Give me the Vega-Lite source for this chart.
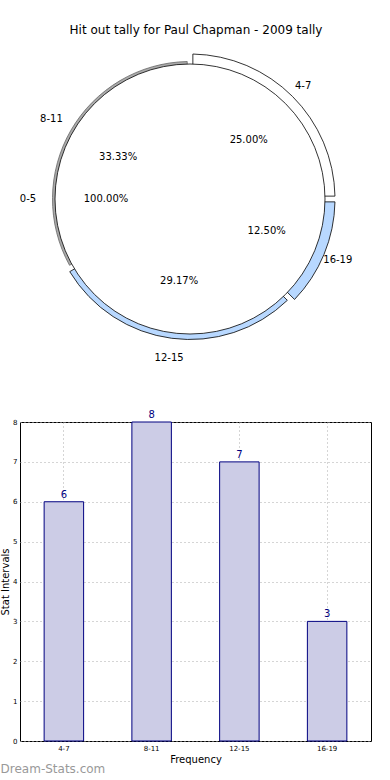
{
  "$schema": "https://vega.github.io/schema/vega-lite/v6.json",
  "padding": {"left": 0, "top": 24, "right": 0, "bottom": 0},
  "background": "white",
  "config": {
    "font": "DejaVu Sans",
    "view": {"stroke": "#000000", "strokeWidth": 1},
    "title": {"font": "DejaVu Sans", "fontWeight": "normal"}
  },
  "datasets": {
    "pie": [
      {"bin": "0-5", "pct": 100, "label": "100.00%", "ord": 0},
      {"bin": "4-7", "pct": 25, "label": "25.00%", "ord": 1},
      {"bin": "16-19", "pct": 12.5, "label": "12.50%", "ord": 2},
      {"bin": "12-15", "pct": 29.17, "label": "29.17%", "ord": 3},
      {"bin": "8-11", "pct": 33.33, "label": "33.33%", "ord": 4}
    ],
    "bars": [
      {"bin": "4-7", "count": 6},
      {"bin": "8-11", "count": 8},
      {"bin": "12-15", "count": 7},
      {"bin": "16-19", "count": 3}
    ]
  },
  "bounds": "flush",
  "spacing": 71,
  "vconcat": [
    {
      "title": {"text": "Hit out tally for Paul Chapman - 2009 tally", "fontSize": 12, "color": "#000000", "offset": 10, "dx": 6},
      "width": 340,
      "height": 304,
      "view": {"stroke": null},
      "data": {"name": "pie"},
      "layer": [
        {
          "transform": [{"filter": "datum.bin != '0-5'"}],
          "mark": {"type": "arc", "outerRadius": 145, "innerRadius": 125, "stroke": "#000000", "strokeWidth": 0.8, "padAngle": 0.03},
          "encoding": {
            "theta": {"field": "pct", "type": "quantitative", "stack": true, "scale": {"domain": [0, 100]}},
            "order": {"field": "ord", "type": "quantitative"},
            "fill": {"field": "bin", "type": "nominal", "legend": null,
              "scale": {"domain": ["4-7", "16-19", "12-15", "8-11"], "range": ["#ffffff", "#b8d8ff", "#b8d8ff", "#ffffff"]}},
            "fillOpacity": {"condition": {"test": "datum.bin == '4-7' || datum.bin == '16-19'", "value": 1}, "value": 0},
            "strokeOpacity": {"condition": {"test": "datum.bin == '4-7' || datum.bin == '16-19'", "value": 1}, "value": 0}
          }
        },
        {
          "transform": [{"filter": "datum.bin != '0-5'"}],
          "mark": {"type": "arc", "outerRadius": 140.5, "innerRadius": 125, "stroke": "#000000", "strokeWidth": 0.8, "padAngle": 0.03},
          "encoding": {
            "theta": {"field": "pct", "type": "quantitative", "stack": true, "scale": {"domain": [0, 100]}},
            "order": {"field": "ord", "type": "quantitative"},
            "fill": {"field": "bin", "type": "nominal", "legend": null,
              "scale": {"domain": ["4-7", "16-19", "12-15", "8-11"], "range": ["#ffffff", "#b8d8ff", "#b8d8ff", "#ffffff"]}},
            "fillOpacity": {"condition": {"test": "datum.bin == '12-15'", "value": 1}, "value": 0},
            "strokeOpacity": {"condition": {"test": "datum.bin == '12-15'", "value": 1}, "value": 0}
          }
        },
        {
          "transform": [{"filter": "datum.bin != '0-5'"}],
          "mark": {"type": "arc", "outerRadius": 137.5, "innerRadius": 125, "stroke": "#666666", "strokeWidth": 0.8, "padAngle": 0.03, "fill": "#aaaaaa"},
          "encoding": {
            "theta": {"field": "pct", "type": "quantitative", "stack": true, "scale": {"domain": [0, 100]}},
            "order": {"field": "ord", "type": "quantitative"},
            "fillOpacity": {"condition": {"test": "datum.bin == '8-11'", "value": 1}, "value": 0},
            "strokeOpacity": {"condition": {"test": "datum.bin == '8-11'", "value": 1}, "value": 0}
          }
        },
        {
          "transform": [{"filter": "datum.bin == '0-5'"}],
          "mark": {"type": "arc", "outerRadius": 135, "stroke": "#000000", "strokeWidth": 0.8, "fill": "#ffffff"},
          "encoding": {
            "theta": {"field": "pct", "type": "quantitative", "stack": true, "scale": {"domain": [0, 100]}}
          }
        },
        {
          "transform": [{"filter": "datum.bin != '0-5'"}],
          "mark": {"type": "text", "radius": 160, "fontSize": 10, "color": "#000000"},
          "encoding": {
            "theta": {"field": "pct", "type": "quantitative", "stack": true, "scale": {"domain": [0, 100]}},
            "order": {"field": "ord", "type": "quantitative"},
            "text": {"field": "bin", "type": "nominal"}
          }
        },
        {
          "transform": [{"filter": "datum.bin != '0-5'"}],
          "mark": {"type": "text", "radius": 83, "fontSize": 10, "color": "#000000"},
          "encoding": {
            "theta": {"field": "pct", "type": "quantitative", "stack": true, "scale": {"domain": [0, 100]}},
            "order": {"field": "ord", "type": "quantitative"},
            "text": {"field": "label", "type": "nominal"}
          }
        },
        {
          "transform": [{"filter": "datum.bin == '0-5'"}],
          "mark": {"type": "text", "radius": 162, "theta": 4.712389, "fontSize": 10, "color": "#000000"},
          "encoding": {"text": {"field": "bin", "type": "nominal"}}
        },
        {
          "transform": [{"filter": "datum.bin == '0-5'"}],
          "mark": {"type": "text", "radius": 84, "theta": 4.712389, "fontSize": 10, "color": "#000000"},
          "encoding": {"text": {"field": "label", "type": "nominal"}}
        }
      ]
    },
    {
      "width": 351,
      "height": 319,
      "data": {"name": "bars"},
      "title": {"text": "Dream-Stats.com", "orient": "bottom", "anchor": "start", "offset": 0, "fontSize": 12, "fontWeight": "normal", "color": "#999999"},
      "encoding": {
        "x": {"field": "bin", "type": "nominal", "sort": null,
          "scale": {"paddingInner": 0.55, "paddingOuter": 0.275},
          "axis": {"title": "Frequency", "titleFontSize": 10, "titleFontWeight": "normal", "titlePadding": 3, "labelFontSize": 7, "labelAngle": 0, "labelPadding": 3, "ticks": false, "domain": false, "grid": true, "gridDash": [1, 3], "gridColor": "#aaaaaa", "labelColor": "#000000", "titleColor": "#000000"}},
        "y": {"field": "count", "type": "quantitative", "scale": {"domain": [0, 8]},
          "axis": {"title": "Stat Intervals", "titleFontSize": 10, "titleFontWeight": "normal", "titlePadding": 2, "labelFontSize": 7, "labelPadding": 3, "values": [0, 1, 2, 3, 4, 5, 6, 7, 8], "ticks": false, "domain": false, "grid": true, "gridDash": [1, 3], "gridColor": "#aaaaaa", "labelColor": "#000000", "titleColor": "#000000"}}
      },
      "layer": [
        {"mark": {"type": "bar", "fill": "#cccce6", "stroke": "#000080", "strokeWidth": 1}},
        {"mark": {"type": "text", "dy": -7, "fontSize": 10, "color": "#000080"},
          "encoding": {"text": {"field": "count", "type": "quantitative"}}}
      ]
    }
  ]
}
